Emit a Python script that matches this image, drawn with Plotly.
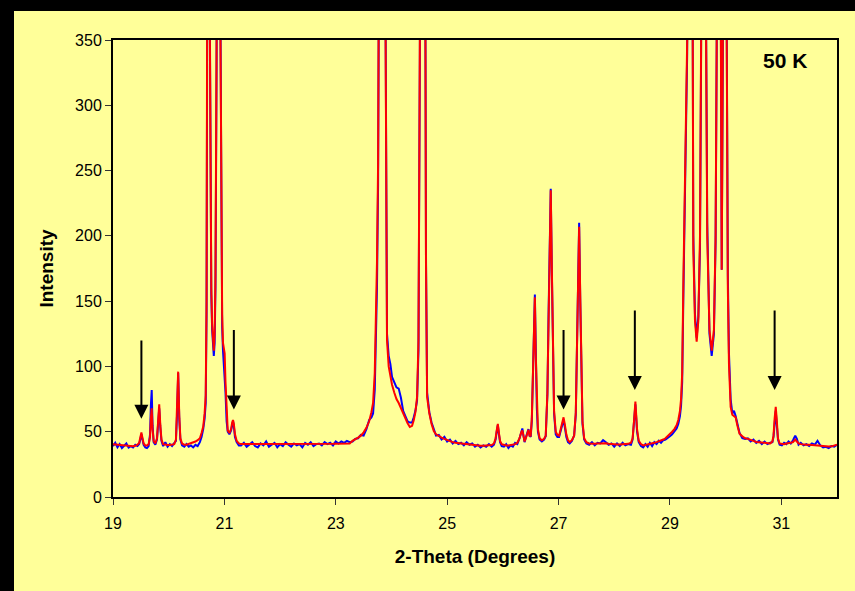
import plotly.graph_objects as go

# ---------------- data ----------------
two_theta = [
    19.00, 19.04, 19.08, 19.12, 19.16, 19.20, 19.24, 19.28, 19.32, 19.36, 19.40, 19.44,
    19.47, 19.49, 19.51, 19.53, 19.55, 19.58,
    19.61, 19.64, 19.665, 19.68, 19.695, 19.71, 19.73, 19.76,
    19.79, 19.81, 19.83, 19.85, 19.87, 19.90,
    19.94, 19.98, 20.02, 20.06, 20.10,
    20.13, 20.15, 20.17, 20.19, 20.21, 20.24,
    20.28, 20.32, 20.36, 20.40, 20.44, 20.48, 20.52, 20.56, 20.59, 20.62, 20.645, 20.665,
    20.68, 20.69, 20.715, 20.74, 20.75, 20.765, 20.78, 20.795, 20.81, 20.825, 20.84, 20.86, 20.895, 20.93, 20.945, 20.96,
    20.975, 20.99, 21.005, 21.02, 21.04, 21.06, 21.09, 21.12, 21.14, 21.155, 21.17, 21.19, 21.22, 21.26,
    21.30, 21.35, 21.40, 21.45, 21.50, 21.55, 21.60, 21.65, 21.70, 21.75, 21.80, 21.85, 21.90, 21.95, 22.00, 22.05,
    22.10, 22.15, 22.20, 22.25, 22.30, 22.35, 22.40, 22.45, 22.50, 22.55, 22.60, 22.65, 22.70, 22.75, 22.80, 22.85,
    22.90, 22.95, 23.00, 23.05, 23.10, 23.15, 23.20, 23.25,
    23.30, 23.35, 23.40, 23.45, 23.50, 23.55, 23.60, 23.64, 23.67, 23.70, 23.72, 23.74, 23.76, 23.78,
    23.845, 23.895, 23.905, 23.92, 23.95, 23.98, 24.01, 24.05, 24.09, 24.13, 24.17, 24.21, 24.25, 24.29, 24.33, 24.37,
    24.40, 24.43, 24.46, 24.485, 24.51,
    24.56, 24.61, 24.62, 24.64, 24.68, 24.72, 24.76, 24.80, 24.85, 24.90, 24.95, 25.00, 25.05,
    25.10, 25.15, 25.20, 25.25, 25.30, 25.35, 25.40, 25.45, 25.50, 25.55, 25.60, 25.65, 25.70, 25.75, 25.80, 25.84,
    25.87, 25.89, 25.91, 25.93, 25.95, 25.98,
    26.02, 26.06, 26.10, 26.14, 26.18, 26.22, 26.26,
    26.30, 26.33, 26.35, 26.37, 26.39, 26.42, 26.445, 26.46, 26.48, 26.50, 26.52, 26.54, 26.56, 26.575, 26.59, 26.61,
    26.63, 26.66, 26.70,
    26.74, 26.77, 26.80, 26.82, 26.84, 26.86, 26.88, 26.90, 26.92, 26.95, 26.98,
    27.01, 27.04, 27.065, 27.09, 27.115, 27.14, 27.17, 27.20, 27.24, 27.28,
    27.31, 27.33, 27.35, 27.37, 27.39, 27.41, 27.43, 27.46, 27.50,
    27.55, 27.60, 27.65, 27.70, 27.75, 27.80, 27.85, 27.90, 27.95, 28.00, 28.05, 28.10, 28.15, 28.20, 28.25, 28.30,
    28.33, 28.355, 28.37, 28.38, 28.39, 28.41, 28.44, 28.48,
    28.52, 28.56, 28.60, 28.64, 28.68, 28.72, 28.76, 28.80, 28.84, 28.88, 28.92, 28.96, 29.00, 29.04, 29.08, 29.12,
    29.15, 29.18, 29.20, 29.22, 29.24, 29.27, 29.31,
    29.355, 29.40, 29.42, 29.45, 29.48, 29.51, 29.54, 29.56, 29.605, 29.65, 29.67, 29.71, 29.75, 29.79, 29.82, 29.84,
    29.88, 29.915, 29.93, 29.95, 29.985, 30.02, 30.04, 30.06, 30.09, 30.12, 30.15, 30.18, 30.21, 30.25, 30.30, 30.35,
    30.40, 30.45, 30.50, 30.55, 30.60, 30.65, 30.70, 30.75, 30.80, 30.84,
    30.86, 30.88, 30.90, 30.92, 30.94, 30.97,
    31.01, 31.05, 31.09, 31.13, 31.17, 31.21, 31.25, 31.28, 31.31, 31.35, 31.40, 31.45, 31.50, 31.55, 31.60, 31.65,
    31.70, 31.75, 31.80, 31.85, 31.90, 31.95, 32.00,
]

intensity_blue = [
    39.0, 41.5, 38.0, 40.5, 37.5, 39.5, 41.0, 37.8, 39.0, 38.0, 40.0, 39.0,
    40.5, 44, 48, 44, 40, 38,
    37.5, 39, 48, 70, 82, 55, 42, 40,
    44, 56, 68, 53, 43, 39,
    42, 38.5, 40.5, 39, 41.5,
    43, 63, 95, 60, 44, 39.5,
    38.5, 40.5, 38.5, 39.5, 38, 40, 39, 42, 46, 52, 60, 72,
    140, 330, 880, 360, 215, 155, 128, 113, 108, 118, 160, 330, 980, 360, 190, 130,
    112, 100, 97, 80, 58, 50, 48, 51, 55, 58, 54, 46, 42, 39.5,
    39.5, 41.5, 38.5, 40.5, 42.0, 39.0, 38.0, 41.0, 39.5, 42.5, 38.5, 40.0, 41.5, 38.0, 40.5, 39.0,
    42.0, 40.0, 38.5, 41.0, 39.5, 40.5, 38.0, 41.5, 40.0, 42.0, 39.0, 40.5, 41.0, 39.5, 42.0, 40.5,
    41.5, 39.5, 42.5, 41.0, 42.5, 41.5, 43.0, 42.0,
    42.5, 44.5, 45, 47.5, 47, 52, 59, 61, 64, 82, 115, 160, 240, 330,
    1150, 360, 200, 125, 108, 102, 92, 88, 84, 83, 76, 66, 62, 58, 57, 57,
    61, 66, 74, 112, 340,
    1050, 360, 185, 80, 65, 57, 51, 47, 47.5, 44, 46, 42.5, 44,
    41, 43, 40.5, 41.5, 39.5, 42, 40, 41, 38.5, 40, 38, 39.5, 38.5, 40.5, 38.5, 40,
    44, 50, 55, 48, 42, 39,
    38.5, 40.5, 37.5, 39.5, 38.5, 41.5, 40.5,
    45, 50, 52.5, 47, 42, 46.5, 50.5, 52, 47, 46, 58, 86, 128, 155, 108, 68,
    50, 44, 42.5,
    44, 46.5, 78, 138, 212, 236, 172, 98, 64, 48, 46,
    46, 51, 56, 59, 53, 46, 42, 41, 43, 47,
    63, 108, 180, 210, 150, 82, 56, 44, 41,
    40, 42, 39.5, 41.5, 41, 43.5, 42, 40, 41, 38.5, 41, 39, 41.5, 39.5, 40.5, 40,
    44, 56, 67, 71, 64, 50, 42, 39,
    38, 40.5, 38.5, 41.5, 39, 42, 40.5, 43, 41.5, 43.5, 44, 45, 46.5, 48, 50, 52.5,
    56, 62, 70, 88, 150, 235, 340,
    1150, 360, 200, 140, 122, 138, 190, 340, 1250, 360, 210, 125, 108, 125, 195, 345,
    1050, 360, 174, 340, 1050, 360, 170, 110, 75, 64, 66, 62, 56, 49, 45, 44.5,
    45, 42.5, 44, 41.5, 43, 40.5, 42.5, 40.5, 41.5, 42,
    46, 57, 66, 55, 44, 40,
    39.5, 41.5, 40.5, 42.5, 41, 43.5, 47, 44.5, 40, 41.5, 39.5, 40.5, 39, 41, 40, 43,
    39.5, 38, 38.5, 37.5, 39, 38.5, 40,
]

intensity_red = [
    40.5, 40.3, 40.0, 39.8, 39.6, 39.4, 39.2, 39.0, 38.8, 38.8, 39.2, 40.0,
    41.5, 45, 49.5, 45, 41, 39.5,
    39.5, 40.5, 46, 60, 68, 52, 43, 41,
    45, 58, 71, 55, 44, 40.5,
    40, 39.8, 39.8, 40, 40.5,
    44, 65, 96, 62, 45, 41,
    40, 40, 40.5, 41, 41.5, 42.5, 43.5, 45, 49, 54, 64, 78,
    150, 350, 900, 350, 220, 160, 132, 118, 112, 125, 170, 350, 1000, 350, 200, 140,
    118, 112, 110, 88, 62, 51, 49, 52, 57, 59, 56, 48, 43, 41,
    40.5, 40.5, 40.4, 40.4, 40.3, 40.3, 40.2, 40.2, 40.2, 40.2, 40.2, 40.2, 40.2, 40.2, 40.2, 40.2,
    40.2, 40.2, 40.2, 40.3, 40.3, 40.3, 40.3, 40.4, 40.4, 40.4, 40.5, 40.5, 40.5, 40.6, 40.6, 40.6,
    40.7, 40.7, 40.8, 40.8, 40.8, 40.8, 40.9, 41.0,
    43, 44, 45.5, 47, 49.5, 53, 58, 65, 72, 95, 128, 180, 256, 350,
    1200, 350, 190, 120, 100, 92, 86, 80, 75, 72, 68, 64, 60, 56.5, 53.6, 54.5,
    58.7, 65, 76.6, 120, 350,
    1100, 350, 179, 76.6, 64, 56, 50.5, 48, 46.5, 45.5, 44.5, 43.5, 43,
    42, 41.5, 41.2, 41, 40.8, 40.6, 40.3, 40, 39.7, 39.4, 39.2, 39.2, 39.3, 39.5, 39.8, 41,
    45, 51, 56, 49, 43, 40.5,
    39.8, 39.5, 39.5, 39.8, 40, 40.5, 41.5,
    45, 49.5, 51, 47, 42.5, 46, 50, 51.5, 47, 47, 60, 89, 130, 153, 110, 70,
    52, 45, 43.4,
    44.5, 47, 80, 140, 215, 235, 175, 100, 66, 50, 47.5,
    47, 52, 57, 61, 55, 48, 43.5, 42, 43.5, 47,
    65, 110, 179, 207, 153, 85, 58, 45, 42,
    41, 40.8, 40.8, 41, 41.2, 41.5, 41.2, 40.8, 40.5, 40.3, 40.2, 40.2, 40.3, 40.5, 40.7, 41.5,
    45, 58, 68, 73, 66, 52, 43, 40.5,
    39.5, 39.8, 40.2, 40.5, 41, 41.5, 42, 42.5, 43, 44, 45, 46.5, 48, 50, 52, 55,
    59, 66, 75, 95, 160, 240, 350,
    1200, 350, 190, 135, 119, 135, 200, 350, 1300, 350, 200, 128, 112, 128, 200, 350,
    1100, 350, 174, 350, 1100, 350, 160, 102, 69, 63, 62, 61, 55, 48.5, 46.5, 45,
    44.5, 43.5, 43, 42.2, 42, 41.8, 41.5, 41.2, 41, 42.5,
    47, 60, 69, 58, 45, 41,
    40.5, 40.5, 41, 41, 41.5, 42, 44, 42.5, 41, 40.5, 40, 40, 40, 39.8, 39.5, 39.2,
    39, 38.8, 38.6, 38.6, 38.8, 39.2, 40,
]

# arrows marking the weak extra reflections (tip / tail intensities)
arrow_theta = [19.51, 21.17, 27.09, 28.37, 30.88]
arrow_tip = [60, 67, 67, 82, 82]
arrow_tail = [121, 129, 129, 144, 144]

x_ticks = [19, 21, 23, 25, 27, 29, 31]
y_ticks = [0, 50, 100, 150, 200, 250, 300, 350]

if not (len(two_theta) == len(intensity_blue) == len(intensity_red)):
    raise SystemExit(f"length mismatch {len(two_theta)} {len(intensity_blue)} {len(intensity_red)}")

# ---------------- figure ----------------
FONT = "Liberation Sans, Arial, sans-serif"
YELLOW = "#FFFF99"

fig = go.Figure()
fig.add_trace(go.Scatter(x=two_theta, y=intensity_blue, mode="lines",
                         line=dict(color="#0000FF", width=2), showlegend=False,
                         hoverinfo="skip"))
fig.add_trace(go.Scatter(x=two_theta, y=intensity_red, mode="lines",
                         line=dict(color="#FF0000", width=2), showlegend=False,
                         hoverinfo="skip"))

annotations = []
for ax_, tip, tail in zip(arrow_theta, arrow_tip, arrow_tail):
    annotations.append(dict(x=ax_, y=tip, ax=ax_, ay=tail, xref="x", yref="y",
                            axref="x", ayref="y", text="", showarrow=True,
                            arrowhead=2, arrowsize=1.4, arrowwidth=2,
                            arrowcolor="black", standoff=0))
annotations.append(dict(x=0.928, y=0.956, xref="paper", yref="paper", text="50 K",
                        showarrow=False, xanchor="center", yanchor="middle",
                        font=dict(family=FONT, size=21, color="black", weight="bold")))

PW, PH = 855 - 113 - 18, 591 - 40 - 94
shapes = [
    dict(type="rect", xref="paper", yref="paper", layer="above",
         x0=(0 - 113) / PW - 0.05, x1=(14 - 113) / PW, y0=-0.5, y1=1.5,
         fillcolor="black", line=dict(width=0)),
    dict(type="rect", xref="paper", yref="paper", layer="above",
         x0=-0.5, x1=1.5, y0=(497 - 11) / PH, y1=1.3,
         fillcolor="black", line=dict(width=0)),
]

axis_common = dict(showline=True, linecolor="black", linewidth=2, mirror=True,
                   ticks="outside", ticklen=6, tickwidth=1, tickcolor="#333333",
                   showgrid=False, zeroline=False,
                   tickfont=dict(family=FONT, size=16, color="black"))

fig.update_layout(
    width=855, height=591,
    margin=dict(l=113, r=18, t=40, b=94, autoexpand=False),
    paper_bgcolor=YELLOW, plot_bgcolor=YELLOW,
    hovermode=False,
    xaxis=dict(range=[19, 32], tickvals=x_ticks, ticklabelstandoff=5, **axis_common,
               title=dict(text="2-Theta (Degrees)", standoff=18,
                          font=dict(family=FONT, size=19, color="black", weight="bold"))),
    yaxis=dict(range=[0, 350], tickvals=y_ticks, **axis_common,
               title=dict(text="Intensity", standoff=16,
                          font=dict(family=FONT, size=19, color="black", weight="bold"))),
    annotations=annotations,
    shapes=shapes,
)

fig.write_html(
    "out.html", config={"displayModeBar": False},
    post_script=("document.body.style.margin='0';document.body.style.overflow='hidden';"
                 "document.body.style.background='#FFFF99';"
                 "document.documentElement.style.background='#FFFF99';"),
)
